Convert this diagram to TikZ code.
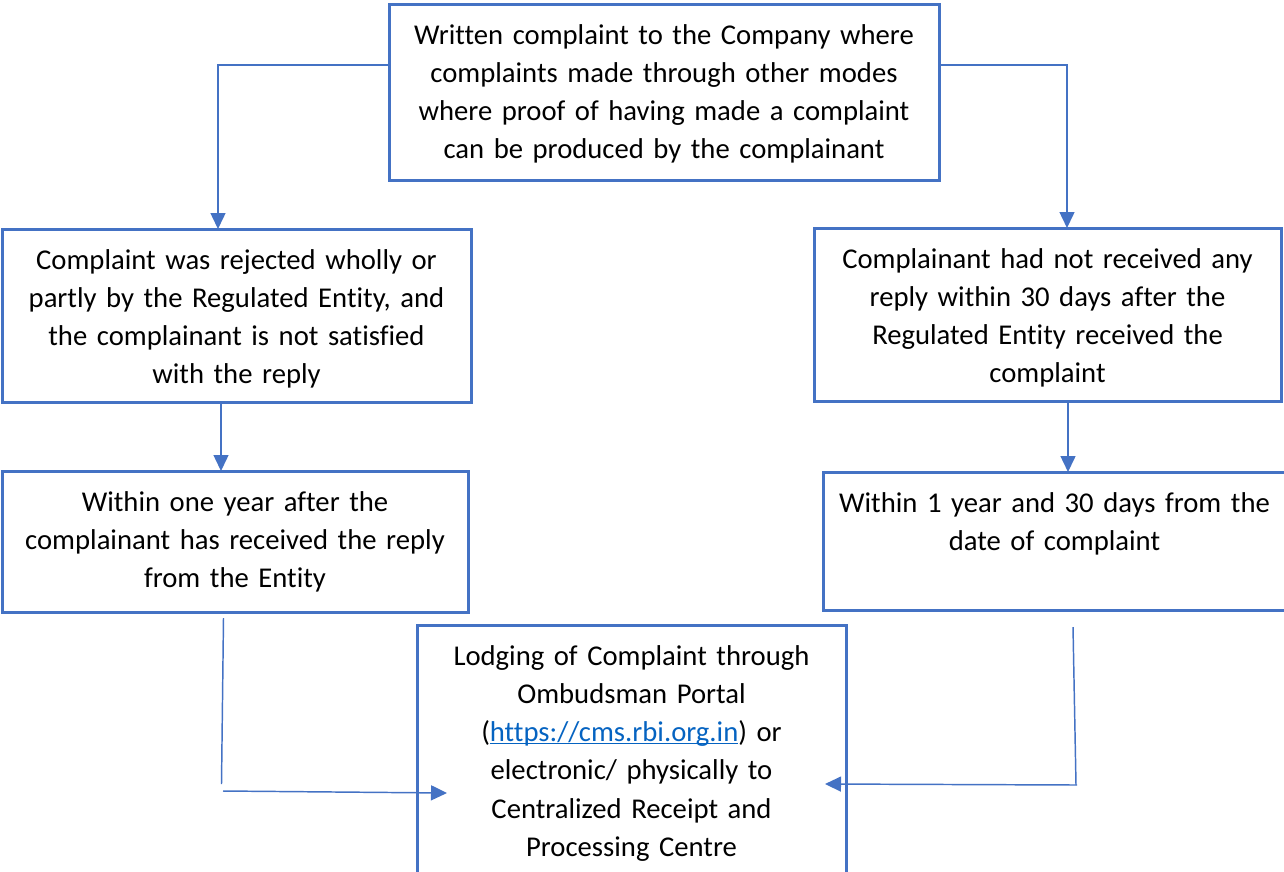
\documentclass[tikz,border=0pt]{standalone}
\usepackage{fontspec}
\setmainfont{Carlito}[Ligatures={NoCommon,NoContextual}]
\usetikzlibrary{arrows.meta,calc}
\definecolor{boxblue}{RGB}{68,114,196}
\definecolor{linkblue}{RGB}{5,99,193}
\newcommand\linkul[1]{\textcolor{linkblue}{\setbox0\hbox{#1}\rlap{\rule[-2.2pt]{\wd0}{0.9pt}}\box0}}
\tikzset{every picture/.style={line width=0.75pt}}
\tikzset{
  box/.style={draw=boxblue, line width=2.25pt, anchor=north west, inner sep=0pt, outer sep=0pt},
  boxtext/.style={anchor=base, align=center, inner sep=0pt, text width=#1, font=\fontsize{21.5}{28.7}\selectfont},
  conn/.style={draw=boxblue, line width=1.1pt},
  arr/.style={conn, -{Triangle[length=12pt,width=11.25pt]}},
}
\begin{document}
\begin{tikzpicture}[x=0.75pt,y=0.75pt,yscale=-1,xscale=1]
	\useasboundingbox (0,0) rectangle (1284,871);
	\clip (0,0) rectangle (1284,871);

	%Shape: Rectangle
	\node [box, minimum width=412.5pt, minimum height=132pt] (written) at (389,4) {};
	%Shape: Rectangle
	\node [box, minimum width=351.75pt, minimum height=129.75pt] (rejected) at (2,229) {};
	%Shape: Rectangle
	\node [box, minimum width=350.25pt, minimum height=129.75pt] (noreply) at (814,228) {};
	%Shape: Rectangle
	\node [box, minimum width=349.5pt, minimum height=105.75pt] (oneyear) at (2,471) {};
	%Shape: Rectangle
	\node [box, minimum width=347.25pt, minimum height=103.5pt] (thirtydays) at (823,472) {};
	%Shape: Rectangle
	\node [box, minimum width=321.75pt, minimum height=225pt] (lodging) at (417,625) {};

	% Text Node
	\node [boxtext=400pt] (writtentxt) at ($(written.north)+(0,40)$) {Written complaint to the Company where\\complaints made through other modes\\where proof of having made a complaint\\can be produced by the complainant};
	% Text Node
	\node [boxtext=340pt] (rejectedtxt) at ($(rejected.north)+(0,40)$) {Complaint was rejected wholly or\\partly by the Regulated Entity, and\\the complainant is not satisfied\\with the reply};
	% Text Node
	\node [boxtext=340pt] (noreplytxt) at ($(noreply.north)+(0,40)$) {Complainant had not received any\\reply within 30 days after the\\Regulated Entity received the\\complaint};
	% Text Node
	\node [boxtext=340pt] (oneyeartxt) at ($(oneyear.north)+(0,40)$) {Within one year after the\\complainant has received the reply\\from the Entity};
	% Text Node
	\node [boxtext=340pt] (thirtydaystxt) at ($(thirtydays.north)+(0,40)$) {Within 1 year and 30 days from the\\date of complaint};
	% Text Node
	\node [boxtext=300pt] (lodgingtxt) at ($(lodging.north)+(0,40)$) {Lodging of Complaint through\\Ombudsman Portal\\(\linkul{https://cms.rbi.org.in}) or\\electronic/ physically to\\Centralized Receipt and\\Processing Centre};

	%Straight Lines
	\draw [arr] ($(written.west)+(0,-27)$) -| ($(rejected.north)+(-18.5,0)$);
	%Straight Lines
	\draw [arr] ($(written.east)+(0,-27)$) -| ($(noreply.north)+(19.5,0)$);
	%Straight Lines
	\draw [arr] ($(rejected.south)+(-15.5,0)$) -- ($(oneyear.north)+(-14,0)$);
	%Straight Lines
	\draw [arr] ($(noreply.south)+(20.5,0)$) -- ($(thirtydays.north)+(13.5,0)$);

	\coordinate (ltop) at ($(oneyear.south)+(-11.5,6)$);
	\coordinate (lbot) at ($(oneyear.south)+(-13.5,172)$);
	\coordinate (lfoot) at ($(oneyear.south)+(-12,179)$);
	\coordinate (rtop) at ($(thirtydays.south)+(18.5,17)$);
	\coordinate (rbot) at ($(thirtydays.south)+(21.5,175)$);
	\coordinate (rfoot) at ($(thirtydays.south)+(22.5,175)$);
	%Straight Lines
	\draw [conn] (ltop) -- (lbot);
	\draw [arr] (lfoot) -- ($(lodging.north west)+(30,168)$);
	%Straight Lines
	\draw [conn] (rtop) -- (rbot);
	\draw [arr] (rfoot) -- ($(lodging.north east)+(-21,159)$);

\end{tikzpicture}
\end{document}
